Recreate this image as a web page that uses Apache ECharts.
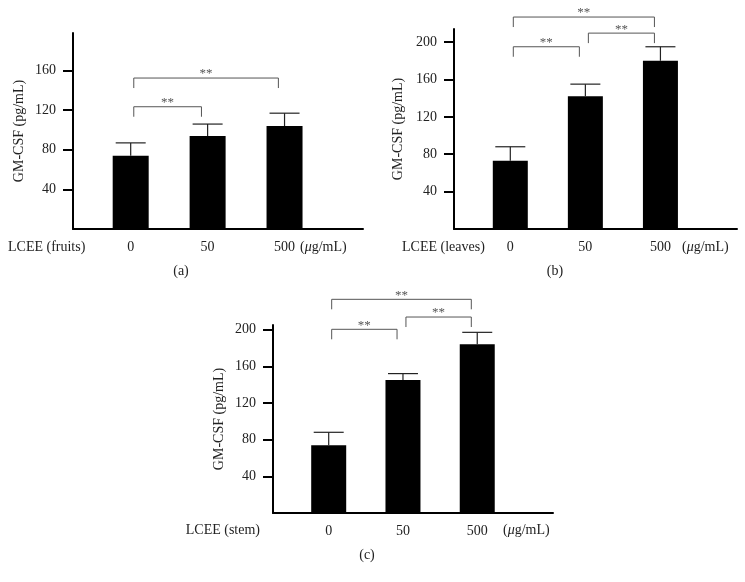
<!DOCTYPE html>
<html>
<head>
<meta charset="utf-8">
<script src="https://cdn.jsdelivr.net/npm/echarts@6/dist/echarts.min.js"></script>
<style>
  html, body { margin: 0; padding: 0; background: #fff; }
  #chart { width: 745px; height: 582px; }
</style>
</head>
<body>
<div id="chart"></div>
<script>
// doses on the x axis
const doses = ['0', '50', '500']

// GM-CSF means and upper error limits (pg/mL)
const fruitsMean = [74, 94, 104]
const fruitsUpper = [87, 106, 117]
const leavesMean = [73, 142, 180]
const leavesUpper = [88, 155, 195]
const stemMean = [74, 145, 184]
const stemUpper = [88, 152, 197]

// significance brackets: [from, to, height]
const fruitsSig = [[0, 1, 123.5], [0, 2, 152.5]]
const leavesSig = [[0, 1, 195], [1, 2, 209.6], [0, 2, 226.8]]
const stemSig = [[0, 1, 200.3], [1, 2, 213.7], [0, 2, 233]]

// y tick labels
const ticksA = [40, 80, 120, 160]
const ticksB = [40, 80, 120, 160, 200]

const font = 'Liberation Serif'
const ink = '#222'

function errorItem(params, api) {
  let x = api.value(0)
  let p0 = api.coord([x, api.value(1)])
  let p1 = api.coord([x, api.value(2)])
  let half = 15
  let st = { stroke: ink, lineWidth: 1.2 }
  return {
    type: 'group',
    children: [
      { type: 'line', shape: { x1: p0[0], y1: p0[1], x2: p1[0], y2: p1[1] }, style: st },
      { type: 'line', shape: { x1: p1[0] - half, y1: p1[1], x2: p1[0] + half, y2: p1[1] }, style: st }
    ]
  }
}

function sigItem(params, api) {
  let a = api.coord([api.value(0) + 0.04, api.value(2)])
  let b = api.coord([api.value(1) - 0.08, api.value(2)])
  let leg = 10
  return {
    type: 'group',
    children: [
      {
        type: 'polyline',
        shape: { points: [[a[0], a[1] + leg], [a[0], a[1]], [b[0], b[1]], [b[0], b[1] + leg]] },
        style: { stroke: '#555', lineWidth: 1, fill: null }
      },
      {
        type: 'text',
        style: {
          text: '**', x: (a[0] + b[0]) / 2, y: a[1] - 4,
          align: 'center', verticalAlign: 'middle',
          fill: '#555', fontSize: 13, fontFamily: font
        }
      }
    ]
  }
}

function pair(arrA, arrB) {
  return arrA.map((v, i) => [i, v, arrB[i]])
}

function makeX(idx) {
  return {
    gridIndex: idx,
    type: 'value',
    min: -0.75,
    max: 3.02,
    splitLine: { show: false },
    axisTick: { show: false },
    axisLine: { onZero: false, lineStyle: { color: '#000', width: 2 } },
    axisLabel: {
      customValues: [0, 1, 2],
      formatter: v => doses[Math.round(v)],
      margin: 11,
      color: ink,
      fontSize: 14,
      fontFamily: font
    }
  }
}

function makeY(idx, max, ticks, gap) {
  return {
    gridIndex: idx,
    type: 'value',
    min: 0,
    max: max,
    name: 'GM-CSF (pg/mL)',
    nameLocation: 'middle',
    nameGap: gap,
    nameTextStyle: { color: ink, fontSize: 14, fontFamily: font },
    splitLine: { show: false },
    axisLine: { show: true, onZero: false, lineStyle: { color: '#000', width: 2 } },
    axisTick: { show: true, length: 10, customValues: ticks, lineStyle: { width: 2, color: '#000' } },
    axisLabel: { customValues: ticks, margin: 17, color: ink, fontSize: 14, fontFamily: font }
  }
}

function panelSeries(idx, mean, upper, sig, barW) {
  return [
    {
      type: 'bar',
      xAxisIndex: idx,
      yAxisIndex: idx,
      barWidth: barW,
      itemStyle: { color: '#000' },
      data: mean.map((v, i) => [i, v])
    },
    {
      type: 'custom',
      xAxisIndex: idx,
      yAxisIndex: idx,
      renderItem: errorItem,
      data: pair(mean, upper),
      z: 3
    },
    {
      type: 'custom',
      xAxisIndex: idx,
      yAxisIndex: idx,
      renderItem: sigItem,
      clip: false,
      data: sig,
      z: 3
    }
  ]
}

function label(text, x, y, align) {
  return {
    type: 'text',
    x: x,
    y: y,
    style: {
      text: text,
      align: align || 'left',
      verticalAlign: 'middle',
      fill: ink,
      fontSize: 14,
      fontFamily: font,
      rich: { i: { fontStyle: 'italic', fontSize: 14, fontFamily: font, fill: ink } }
    }
  }
}

let chart = echarts.init(document.getElementById('chart'), null, { renderer: 'canvas' })
chart.setOption({
  backgroundColor: '#fff',
  animation: false,
  grid: [
    { left: 73, top: 33, width: 290, height: 196 },
    { left: 454, top: 29, width: 283, height: 200 },
    { left: 273, top: 325, width: 280, height: 188 }
  ],
  xAxis: [makeX(0), makeX(1), makeX(2)],
  yAxis: [makeY(0, 198, ticksA, 47), makeY(1, 214, ticksB, 49), makeY(2, 205, ticksB, 47)],
  series: [
    ...panelSeries(0, fruitsMean, fruitsUpper, fruitsSig, 36),
    ...panelSeries(1, leavesMean, leavesUpper, leavesSig, 35),
    ...panelSeries(2, stemMean, stemUpper, stemSig, 35)
  ],
  graphic: [
    label('LCEE (fruits)', 8, 247),
    label('({i|μ}g/mL)', 300, 247),
    label('(a)', 181, 271, 'center'),
    label('LCEE (leaves)', 402, 247),
    label('({i|μ}g/mL)', 682, 247),
    label('(b)', 555, 271, 'center'),
    label('LCEE (stem)', 260, 530, 'right'),
    label('({i|μ}g/mL)', 503, 530),
    label('(c)', 367, 555, 'center')
  ]
})
window.onresize = () => {
  chart.resize()
}
</script>
</body>
</html>
